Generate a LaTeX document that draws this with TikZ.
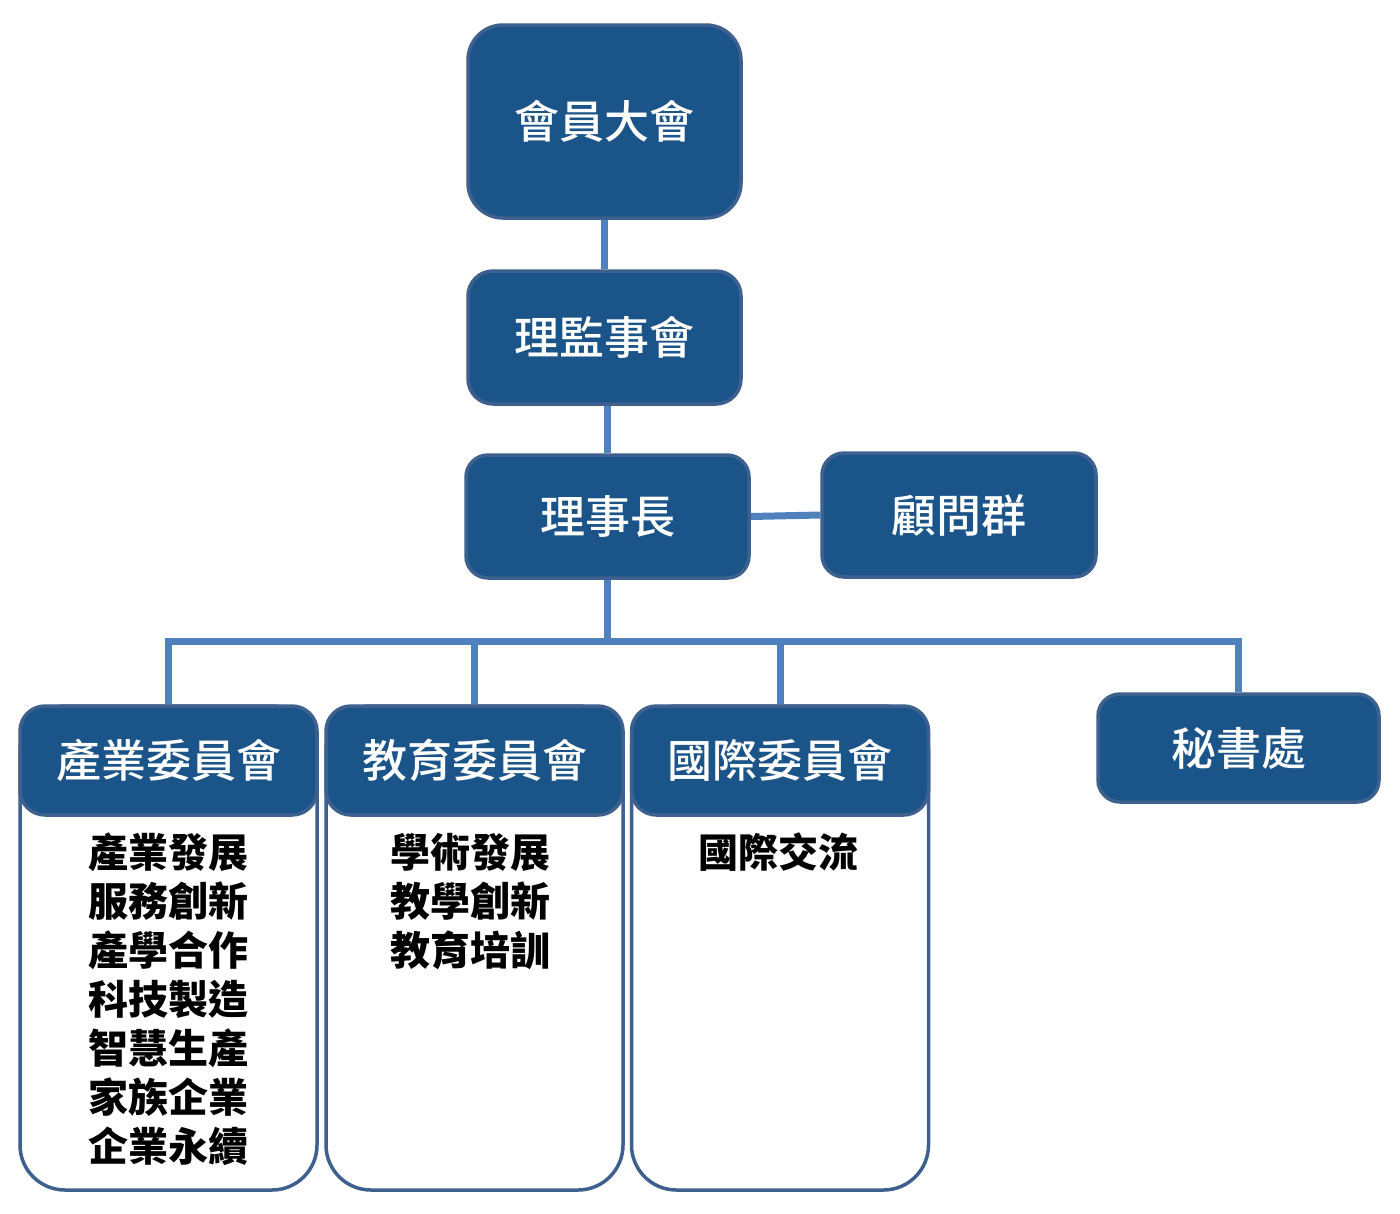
\documentclass[tikz,border=0pt]{standalone}
\usepackage{fontspec}
\setmainfont{Noto Sans CJK TC}
\newfontfamily\hfont{Noto Sans CJK TC Medium}
\usetikzlibrary{backgrounds}
\definecolor{boxfill}{RGB}{27,84,136}
\definecolor{boxline}{RGB}{62,96,142}
\definecolor{connc}{RGB}{79,129,189}
\begin{document}
\begin{tikzpicture}[x=1pt,y=-1pt,
  hbox/.style={draw=boxline, line width=3.5pt, fill=boxfill, text=white,
    font=\fontsize{45}{54}\selectfont\hfont, inner sep=0pt, rounded corners=25pt},
  bodybox/.style={draw=boxline, line width=3.5pt, fill=white, inner sep=0pt,
    rounded corners=45pt, minimum width=297pt, minimum height=484pt},
  bodytext/.style={font=\fontsize{40}{49}\selectfont\bfseries, text=black, align=center, inner sep=0pt, anchor=north},
  connline/.style={draw=connc, line width=7pt}
]
\useasboundingbox (0,0) rectangle (1400,1213);

\node[hbox, rounded corners=35pt, minimum width=273pt, minimum height=193pt] (gm) at (604.5,121.5) {會員大會};
\node[hbox, minimum width=273pt, minimum height=133pt] (board) at (604.5,337.5) {理監事會};
\node[hbox, rounded corners=22pt, minimum width=283pt, minimum height=123pt] (chair) at (607.5,516.5) {理事長};
\node[hbox, rounded corners=22pt, minimum width=274pt, minimum height=124pt] (adv) at (959,515) {顧問群};
\node[hbox, rounded corners=22pt, minimum width=281pt, minimum height=108pt] (sec) at (1238.5,748) {秘書處};

\node[bodybox] (indb) at (168.5,948) {};
\node[hbox, minimum width=297pt, minimum height=109pt] (indh) at (168.5,760.5) {產業委員會};
\node[bodytext] (indt) at (168.5,833) {產業發展\\服務創新\\產學合作\\科技製造\\智慧生產\\家族企業\\企業永續};

\node[bodybox] (edub) at (474.5,948) {};
\node[hbox, minimum width=297pt, minimum height=109pt] (eduh) at (474.5,760.5) {教育委員會};
\node[bodytext] (edut) at (470,833) {學術發展\\教學創新\\教育培訓};

\node[bodybox] (intb) at (780,948) {};
\node[hbox, minimum width=297pt, minimum height=109pt] (inth) at (780,760.5) {國際委員會};
\node[bodytext] (intt) at (778,833) {國際交流};

\coordinate (bus) at (608,641);

\begin{scope}[on background layer]
  \draw[connline] (gm.south) -- (board.north);
  \draw[connline] (chair.north |- board.south) -- (chair.north);
  \draw[connline] (chair.east) -- (adv.west);
  \draw[connline] (chair.south) -- (chair.south |- bus);
  \draw[connline] (indh.north) -- (indh.north |- bus) -- (sec.north |- bus) -- (sec.north);
  \draw[connline] (eduh.north |- bus) -- (eduh.north);
  \draw[connline] (inth.north |- bus) -- (inth.north);
\end{scope}
\end{tikzpicture}
\end{document}
